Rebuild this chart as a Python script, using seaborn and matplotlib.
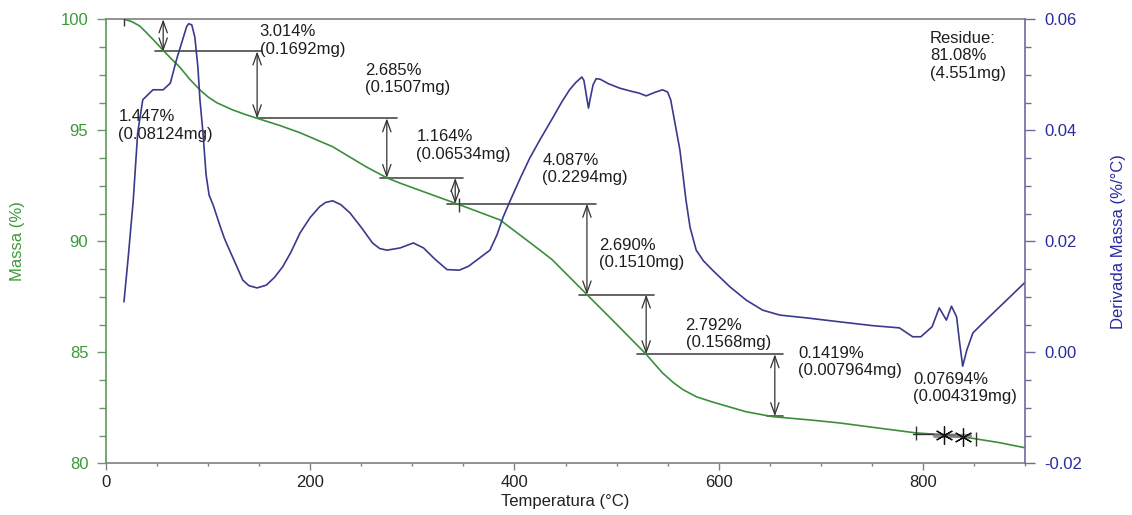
import matplotlib
matplotlib.use("Agg")
import numpy as np
import pandas as pd
import seaborn as sns
import matplotlib.pyplot as plt
from matplotlib.ticker import MultipleLocator, FormatStrFormatter

# ---------------- data ----------------
tga_temp = [18, 25, 33, 40, 48, 56, 64, 72, 82, 92, 100, 109, 124, 136, 148, 170, 190,
            222, 255, 275, 288, 310, 346, 386, 425, 437, 471, 496, 529, 545, 556, 565, 578,
            594, 627, 653, 690, 718, 751, 793, 821, 839, 852, 875, 900]
tga_mass = [100.0, 99.9, 99.7, 99.38, 99.0, 98.6, 98.22, 97.86, 97.3, 96.82, 96.5, 96.23,
            95.92, 95.72, 95.54, 95.22, 94.89, 94.26, 93.35, 92.86, 92.62, 92.25, 91.65,
            90.96, 89.6, 89.17, 87.6, 86.45, 84.91, 84.07, 83.62, 83.32, 83.0, 82.76,
            82.32, 82.1, 81.95, 81.82, 81.62, 81.37, 81.28, 81.19, 81.10, 80.93, 80.7]

dtg_temp = [17.6, 21.5, 26.7, 31, 36, 46, 56, 63, 69, 75, 79, 81, 84, 87, 90, 92, 95, 98,
            101, 105, 112, 116, 121, 128, 134, 140, 148, 157, 165, 173, 181, 190, 200,
            209, 215, 222, 230, 239, 250, 261, 268, 275, 288, 301, 311, 322, 334, 346,
            355, 363, 376, 383, 389, 397, 405, 415, 425, 438, 446, 454, 460, 466, 468,
            470, 472.5, 474, 477, 480, 484, 492, 503, 513, 522, 529, 537, 545, 550, 553,
            556, 559, 562, 565, 568, 572, 578, 585, 594, 611, 627, 643, 660, 686, 718,
            751, 777, 790, 798, 809, 816, 823, 828, 833, 836, 839, 843, 849, 865, 882, 900]
dtg_value = [0.0091, 0.0166, 0.0274, 0.0395, 0.0455, 0.0473, 0.0473, 0.0485, 0.0527,
             0.0563, 0.0587, 0.0592, 0.0590, 0.0568, 0.0514, 0.0455, 0.0395, 0.0320,
             0.0283, 0.0265, 0.0226, 0.0205, 0.0184, 0.0155, 0.0130, 0.0120, 0.0116,
             0.0121, 0.0135, 0.0154, 0.0180, 0.0215, 0.0243, 0.0262, 0.0270, 0.0273,
             0.0266, 0.0251, 0.0225, 0.0197, 0.0187, 0.0184, 0.0188, 0.0197, 0.0188,
             0.0168, 0.0149, 0.0148, 0.0155, 0.0166, 0.0184, 0.0212, 0.0244, 0.0278,
             0.0311, 0.0350, 0.0383, 0.0424, 0.0450, 0.0473, 0.0486, 0.0496, 0.0490,
             0.0468, 0.0440, 0.0455, 0.0482, 0.0493, 0.0492, 0.0484, 0.0476, 0.0471,
             0.0467, 0.0462, 0.0468, 0.0473, 0.0469, 0.0455, 0.0425, 0.0395, 0.0365,
             0.0320, 0.0274, 0.0225, 0.0184, 0.0165, 0.0148, 0.0118, 0.0094, 0.0076,
             0.0067, 0.0062, 0.0055, 0.0048, 0.0044, 0.0028, 0.0028, 0.0046, 0.0080,
             0.0058, 0.0083, 0.0064, 0.0017, -0.0025, 0.0004, 0.0035, 0.0064, 0.0094,
             0.0126]

# mass-loss steps: arrow temperature, level before, level after
step_temp = [56, 148, 275, 342, 471, 529, 655]
step_top = [100.0, 98.553, 95.539, 92.854, 91.690, 87.603, 84.913]
step_bottom = [98.553, 95.539, 92.854, 91.690, 87.603, 84.913, 82.121]
step_labels = ["1.447%\n(0.08124mg)", "3.014%\n(0.1692mg)", "2.685%\n(0.1507mg)",
               "1.164%\n(0.06534mg)", "4.087%\n(0.2294mg)", "2.690%\n(0.1510mg)",
               "2.792%\n(0.1568mg)"]
small_labels = ["0.1419%\n(0.007964mg)", "0.07694%\n(0.004319mg)"]
residue_label = "Residue:\n81.08%\n(4.551mg)"

# ---------------- layout (positions only) ----------------
hline_extent = [(48, 153), (148, 285), (268, 350), (334, 480), (463, 537), (520, 663), (647, 663)]
label_pos = [(12, 95.94), (150.5, 99.77), (253.5, 98.03), (304, 95.04), (427.4, 93.98),
             (482.8, 90.15), (567.6, 86.55)]
small_label_pos = [(677.6, 85.29), (790.2, 84.11)]
residue_pos = (807, 99.47)

GREEN = "#3b8f3b"
GREEN_TXT = "#3a9a3a"
BLUE = "#3a3a8c"
BLUE_TXT = "#2b2ba0"

sns.set_theme(style="white")
plt.rcParams["font.family"] = ["Liberation Sans", "DejaVu Sans"]
plt.rcParams["axes.unicode_minus"] = False

fig = plt.figure(figsize=(11.32, 5.15), dpi=100)
ax = fig.add_axes([106 / 1132, 1 - 463.3 / 515, (1025 - 106) / 1132, 444 / 515])
ax2 = ax.twinx()

tga = pd.DataFrame({"T": tga_temp, "mass": tga_mass})
dtg = pd.DataFrame({"T": dtg_temp, "dtg": dtg_value})

sns.lineplot(data=tga, x="T", y="mass", ax=ax, color=GREEN, lw=1.2, zorder=3)
sns.lineplot(data=dtg, x="T", y="dtg", ax=ax2, color=BLUE, lw=1.2)

ax.set_xlim(0, 900)
ax.set_ylim(80, 100)
ax2.set_ylim(-0.02, 0.06)

# step annotations
for (x0, x1), lvl in zip(hline_extent, step_bottom):
    ax.plot([x0, x1], [lvl, lvl], color="#4a4a4a", lw=1.2, zorder=2)
for t, top, bot in zip(step_temp, step_top, step_bottom):
    ax.annotate("", xy=(t, bot), xytext=(t, top),
                arrowprops=dict(arrowstyle="<->,head_length=0.7,head_width=0.25",
                                color="#333333", lw=0.9, shrinkA=0, shrinkB=0), zorder=4)
for (x, y), txt in zip(label_pos, step_labels):
    ax.text(x, y, txt, ha="left", va="top", fontsize=12, color="#1e1e1e", zorder=5)
for (x, y), txt in zip(small_label_pos, small_labels):
    ax.text(x, y, txt, ha="left", va="top", fontsize=12, color="#1e1e1e", zorder=5)
ax.text(residue_pos[0], residue_pos[1], residue_label, ha="left", va="top",
        fontsize=12, color="#1e1e1e", zorder=5)

# little markers at the end region / start
ax.plot([18, 346, 793, 852], [100.0, 91.65, 81.37, 81.10], ls="none", marker="|",
        ms=10, mew=1, color="#333333", zorder=4)
ax.plot([790, 830], [81.33, 81.33], color="#333333", lw=1, zorder=4)
ax.plot([812, 846], [81.23, 81.23], color="#777777", lw=3, alpha=0.8, zorder=4)
ax.plot([821, 839], [81.28, 81.19], ls="none", marker=(6, 2, 0), ms=13, mew=0.9,
        color="#111111", zorder=5)

# axes styling
for s in ["top", "bottom"]:
    ax.spines[s].set_color("#808080")
    ax2.spines[s].set_visible(False)
ax.spines["left"].set_color("#5a9a5a")
ax.spines["right"].set_visible(False)
ax2.spines["left"].set_visible(False)
ax2.spines["right"].set_color("#6b6b9b")
for s in ax.spines.values():
    s.set_linewidth(1.2)
ax2.spines["right"].set_linewidth(1.2)

ax.xaxis.set_major_locator(MultipleLocator(200))
ax.xaxis.set_minor_locator(MultipleLocator(50))
ax.yaxis.set_major_locator(MultipleLocator(5))
ax.yaxis.set_minor_locator(MultipleLocator(1.25))
ax2.yaxis.set_major_locator(MultipleLocator(0.02))
ax2.yaxis.set_minor_locator(MultipleLocator(0.005))
ax2.yaxis.set_major_formatter(FormatStrFormatter("%.2f"))

ax.tick_params(axis="x", which="major", direction="out", length=5, width=1,
               color="#808080", pad=3.5, labelsize=12, labelcolor="#222222", bottom=True)
ax.tick_params(axis="x", which="minor", direction="out", length=2.5, width=1,
               color="#808080", bottom=True)
ax.tick_params(axis="y", which="major", direction="out", length=6.7, width=1,
               color="#6a9a6a", pad=6, labelsize=12, labelcolor=GREEN_TXT, left=True)
ax.tick_params(axis="y", which="minor", direction="out", length=4.8, width=1,
               color="#6a9a6a", left=True)
ax2.tick_params(axis="y", which="major", direction="out", length=7, width=1,
                color="#6b6b9b", pad=7, labelsize=12, labelcolor=BLUE_TXT, right=True)
ax2.tick_params(axis="y", which="minor", direction="out", length=4, width=1,
                color="#6b6b9b", right=True)

ax.set_xlabel("Temperatura (°C)", fontsize=12, color="#222222")
ax.set_ylabel("Massa (%)", fontsize=12, color=GREEN_TXT)
ax2.set_ylabel("Derivada Massa (%/°C)", fontsize=12, color=BLUE_TXT)
ax.xaxis.set_label_coords(0.5, -0.07)
ax.yaxis.set_label_coords(-0.088, 0.5)
ax2.yaxis.set_label_coords(1.094, 0.5)

ax.grid(False)
ax2.grid(False)

fig.savefig("out.png", dpi=100, facecolor="white")
